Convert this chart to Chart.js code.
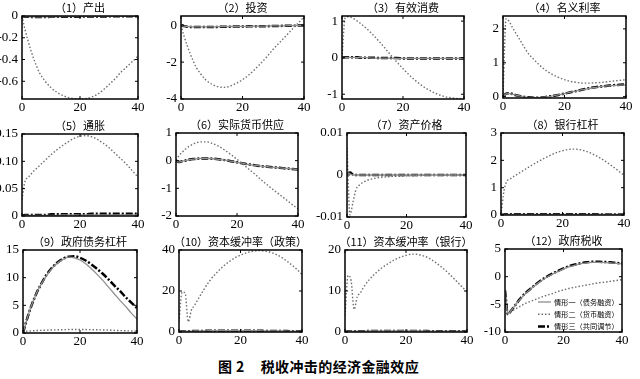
<!DOCTYPE html>
<html>
<head>
<meta charset="utf-8">
<title>税收冲击的经济金融效应</title>
<script src="https://cdn.jsdelivr.net/npm/chart.js"></script>
<style>
  body { margin: 0; background: #fff; }
  #wrap { position: relative; width: 640px; height: 379px; overflow: hidden; }
  #wrap canvas { position: absolute; }
  #caption { position: absolute; top: 356px; left: 218px; white-space: nowrap;
             font: bold 14px "Noto Sans CJK SC"; color: #000; letter-spacing: 0.4px; }
  #caption span { margin-left: 16px; }
</style>
</head>
<body>
<div id="wrap"><div id="caption">图 2<span>税收冲击的经济金融效应</span></div></div>
<script>
// quarters after the shock, shared by every panel
const t = [0, 1, 2, 3, 4, 5, 6, 8, 10, 12, 14, 16, 18, 20, 22, 24, 26, 28, 30, 32, 34, 36, 38, 40];
const xTicks = [0, 20, 40];
const scenarios = ['情形一（债务融资）', '情形二（货币融资）', '情形三（共同调节）'];
const titles = ['（1）产出', '（2）投资', '（3）有效消费', '（4）名义利率',
                '（5）通胀', '（6）实际货币供应', '（7）资产价格', '（8）银行杠杆',
                '（9）政府债务杠杆', '（10）资本缓冲率（政策）', '（11）资本缓冲率（银行）', '（12）政府税收'];

// (1) 产出
const outputDebt  = [0, -0.004, -0.006, -0.007, -0.008, -0.008, -0.008, -0.008, -0.007, -0.007, -0.006, -0.006, -0.005, -0.005, -0.004, -0.004, -0.003, -0.003, -0.003, -0.002, -0.002, -0.002, -0.002, -0.001];
const outputMoney = [0, -0.12, -0.22, -0.31, -0.39, -0.46, -0.52, -0.60, -0.66, -0.70, -0.73, -0.75, -0.76, -0.763, -0.76, -0.745, -0.72, -0.68, -0.63, -0.58, -0.52, -0.47, -0.42, -0.37];
const outputMixed = [0, -0.005, -0.007, -0.008, -0.009, -0.009, -0.009, -0.009, -0.008, -0.008, -0.007, -0.007, -0.006, -0.006, -0.005, -0.005, -0.004, -0.004, -0.003, -0.003, -0.003, -0.002, -0.002, -0.002];
// (2) 投资
const investDebt  = [0, -0.05, -0.07, -0.08, -0.09, -0.09, -0.09, -0.09, -0.09, -0.08, -0.08, -0.07, -0.07, -0.06, -0.06, -0.05, -0.05, -0.04, -0.04, -0.03, -0.03, -0.02, -0.02, -0.02];
const investMoney = [0, -0.6, -1.1, -1.55, -1.95, -2.3, -2.55, -2.95, -3.2, -3.33, -3.37, -3.3, -3.15, -2.95, -2.7, -2.4, -2.05, -1.7, -1.3, -0.95, -0.6, -0.25, 0.1, 0.45];
const investMixed = [0, -0.05, -0.08, -0.09, -0.1, -0.1, -0.1, -0.1, -0.09, -0.09, -0.08, -0.08, -0.07, -0.07, -0.06, -0.06, -0.05, -0.05, -0.04, -0.04, -0.03, -0.03, -0.02, -0.02];
// (3) 有效消费
const consDebt  = [0, 0.01, 0.01, 0.01, 0.01, 0, 0, 0, -0.01, -0.01, -0.01, -0.01, -0.02, -0.02, -0.02, -0.02, -0.02, -0.02, -0.02, -0.02, -0.02, -0.02, -0.02, -0.02];
const consMoney = [0, 1.08, 1.12, 1.1, 1.06, 1.0, 0.94, 0.8, 0.64, 0.46, 0.27, 0.07, -0.12, -0.3, -0.47, -0.62, -0.75, -0.86, -0.95, -1.02, -1.07, -1.1, -1.12, -1.13];
const consMixed = [0, 0.01, 0.01, 0.01, 0.01, 0.01, 0, 0, 0, -0.01, -0.01, -0.01, -0.01, -0.02, -0.02, -0.02, -0.02, -0.02, -0.02, -0.02, -0.02, -0.02, -0.02, -0.02];
// (4) 名义利率
const rateDebt  = [0, 0.08, 0.09, 0.07, 0.05, 0.03, 0.01, -0.02, -0.03, -0.03, -0.01, 0.02, 0.05, 0.09, 0.13, 0.17, 0.21, 0.24, 0.27, 0.3, 0.32, 0.33, 0.34, 0.35];
const rateMoney = [0, 2.3, 2.22, 2.05, 1.9, 1.75, 1.6, 1.3, 1.1, 0.92, 0.77, 0.66, 0.57, 0.5, 0.45, 0.42, 0.4, 0.4, 0.41, 0.42, 0.44, 0.46, 0.48, 0.5];
const rateMixed = [0, 0.09, 0.1, 0.08, 0.05, 0.03, 0.01, -0.02, -0.03, -0.03, -0.01, 0.02, 0.05, 0.09, 0.13, 0.17, 0.21, 0.25, 0.28, 0.3, 0.32, 0.34, 0.35, 0.36];
// (5) 通胀
const inflDebt  = [0, 0.001, 0.001, 0.001, 0.001, 0.001, 0.001, 0.001, 0.001, 0.001, 0.002, 0.002, 0.002, 0.002, 0.002, 0.002, 0.002, 0.002, 0.002, 0.002, 0.002, 0.002, 0.002, 0.002];
const inflMoney = [0.03, 0.063, 0.07, 0.076, 0.082, 0.087, 0.092, 0.102, 0.112, 0.121, 0.129, 0.136, 0.142, 0.146, 0.147, 0.145, 0.14, 0.133, 0.125, 0.115, 0.105, 0.095, 0.083, 0.071];
const inflMixed = [0, 0.002, 0.002, 0.002, 0.002, 0.002, 0.002, 0.002, 0.003, 0.003, 0.003, 0.003, 0.003, 0.003, 0.003, 0.004, 0.004, 0.004, 0.004, 0.004, 0.004, 0.004, 0.004, 0.004];
// (6) 实际货币供应
const moneyDebt  = [0, -0.05, -0.02, 0, 0.03, 0.05, 0.06, 0.08, 0.08, 0.07, 0.05, 0.02, -0.02, -0.06, -0.1, -0.14, -0.17, -0.2, -0.22, -0.24, -0.26, -0.28, -0.3, -0.32];
const moneyMoney = [0.02, 0.18, 0.3, 0.41, 0.5, 0.56, 0.62, 0.68, 0.68, 0.62, 0.52, 0.38, 0.22, 0.05, -0.13, -0.32, -0.5, -0.7, -0.88, -1.06, -1.23, -1.4, -1.58, -1.74];
const moneyMixed = [0, -0.05, -0.02, 0, 0.03, 0.05, 0.06, 0.08, 0.08, 0.07, 0.05, 0.02, -0.02, -0.06, -0.1, -0.14, -0.17, -0.2, -0.22, -0.24, -0.26, -0.28, -0.3, -0.32];
// (7) 资产价格
const assetDebt  = [0.0005, 0.0003, 0, 0, 0, 0, 0, 0, 0, 0, 0, 0, 0, 0, 0, 0, 0, 0, 0, 0, 0, 0, 0, 0];
const assetMoney = [0.0065, -0.0095, -0.0065, -0.0035, -0.0025, -0.0019, -0.0015, -0.001, -0.0007, -0.0005, -0.0004, -0.0003, -0.0003, -0.0002, -0.0002, -0.0001, -0.0001, -0.0001, -0.0001, 0, 0, 0, 0, 0];
const assetMixed = [0.0004, 0.0006, 0.0001, 0, 0, 0, 0, 0, 0, 0, 0, 0, 0, 0, 0, 0, 0, 0, 0, 0, 0, 0, 0, 0];
// (8) 银行杠杆
const bankDebt  = [0, 0.01, 0.02, 0.02, 0.02, 0.02, 0.02, 0.02, 0.02, 0.02, 0.02, 0.02, 0.02, 0.02, 0.02, 0.02, 0.02, 0.02, 0.02, 0.02, 0.02, 0.02, 0.02, 0.02];
const bankMoney = [0, 0.9, 1.25, 1.32, 1.4, 1.47, 1.54, 1.68, 1.82, 1.95, 2.07, 2.18, 2.28, 2.35, 2.4, 2.41, 2.38, 2.32, 2.22, 2.1, 1.96, 1.8, 1.63, 1.45];
const bankMixed = [0, 0.02, 0.03, 0.03, 0.03, 0.03, 0.03, 0.03, 0.03, 0.03, 0.03, 0.03, 0.03, 0.03, 0.03, 0.03, 0.03, 0.03, 0.03, 0.02, 0.02, 0.02, 0.02, 0.02];
// (9) 政府债务杠杆
const govDebtDebt  = [0, 1.8, 3.5, 5.0, 6.3, 7.5, 8.5, 10.2, 11.6, 12.6, 13.3, 13.7, 13.6, 13.2, 12.5, 11.6, 10.6, 9.5, 8.3, 7.1, 5.9, 4.8, 3.6, 2.5];
const govDebtMoney = [0, 0.3, 0.35, 0.4, 0.42, 0.45, 0.47, 0.51, 0.55, 0.58, 0.6, 0.62, 0.63, 0.63, 0.62, 0.6, 0.58, 0.55, 0.52, 0.48, 0.44, 0.4, 0.36, 0.32];
const govDebtMixed = [0, 1.8, 3.5, 5.0, 6.3, 7.5, 8.5, 10.3, 11.7, 12.7, 13.4, 13.8, 13.85, 13.6, 13.1, 12.4, 11.6, 10.7, 9.7, 8.6, 7.6, 6.5, 5.5, 4.5];
// (10) 资本缓冲率（政策）
const bufPolDebt  = [0, 0.2, 0.3, 0.4, 0.4, 0.5, 0.5, 0.5, 0.6, 0.6, 0.6, 0.6, 0.6, 0.6, 0.6, 0.6, 0.6, 0.5, 0.5, 0.5, 0.5, 0.4, 0.4, 0.4];
const bufPolMoney = [5, 19.5, 19, 5, 10.5, 13, 15.5, 20.5, 25, 28.5, 31.5, 34, 36, 37.5, 38.7, 39.4, 39.7, 39.5, 38.8, 37.5, 35.8, 33.5, 31, 28];
const bufPolMixed = [0, 0.2, 0.3, 0.4, 0.4, 0.5, 0.5, 0.5, 0.6, 0.6, 0.6, 0.6, 0.6, 0.6, 0.6, 0.6, 0.6, 0.5, 0.5, 0.5, 0.5, 0.4, 0.4, 0.4];
// (11) 资本缓冲率（银行）
const bufBankDebt  = [0, 0.1, 0.15, 0.2, 0.2, 0.2, 0.2, 0.25, 0.25, 0.25, 0.25, 0.25, 0.25, 0.25, 0.25, 0.25, 0.25, 0.2, 0.2, 0.2, 0.2, 0.2, 0.2, 0.2];
const bufBankMoney = [4, 13.8, 12.5, 5.5, 8.6, 9.5, 10.8, 12.8, 14.3, 15.6, 16.6, 17.5, 18.2, 18.7, 19, 18.9, 18.5, 17.8, 16.8, 15.6, 14.3, 12.8, 11.3, 9.8];
const bufBankMixed = [0, 0.1, 0.15, 0.2, 0.2, 0.2, 0.2, 0.25, 0.25, 0.25, 0.25, 0.25, 0.25, 0.25, 0.25, 0.25, 0.25, 0.2, 0.2, 0.2, 0.2, 0.2, 0.2, 0.2];
// (12) 政府税收
const taxDebt  = [-2.5, -6.8, -6.2, -5.5, -4.8, -4.2, -3.6, -2.6, -1.7, -0.9, -0.2, 0.4, 0.9, 1.4, 1.8, 2.1, 2.35, 2.5, 2.6, 2.6, 2.55, 2.5, 2.4, 2.3];
const taxMoney = [-2.5, -6.5, -6.3, -6.0, -5.7, -5.4, -5.1, -4.6, -4.2, -3.8, -3.4, -3.1, -2.7, -2.4, -2.1, -1.9, -1.7, -1.5, -1.3, -1.1, -1.0, -0.85, -0.7, -0.55];
const taxMixed = [-2.5, -6.8, -6.2, -5.5, -4.8, -4.1, -3.5, -2.5, -1.6, -0.8, -0.1, 0.5, 1.0, 1.5, 1.9, 2.2, 2.45, 2.6, 2.7, 2.7, 2.65, 2.6, 2.5, 2.4];

// y axes
const yMin = [-0.763, -4, -1.13, -0.04, 0, -2, -0.01, 0, 0, 0, 0, -10];
const yMax = [0, 0.5, 1.14, 2.38, 0.15, 1, 0.01, 3, 15, 40, 20, 5];
const yTicks = [[-0.6, -0.4, -0.2, 0], [-4, -2, 0], [-1, 0, 1], [0, 1, 2],
                [0, 0.05, 0.1, 0.15], [-2, -1, 0, 1], [-0.01, 0, 0.01], [0, 1, 2, 3],
                [0, 5, 10, 15], [0, 20, 40], [0, 10, 20], [-10, -5, 0, 5]];
const yTickLabels = [['-0.6', '-0.4', '-0.2', '0'], ['-4', '-2', '0'], ['-1', '0', '1'], ['0', '1', '2'],
                     ['0', '0.05', '0.10', '0.15'], ['-2', '-1', '0', '1'], ['-0.01', '0', '0.01'], ['0', '1', '2', '3'],
                     ['0', '5', '10', '15'], ['0', '20', '40'], ['0', '10', '20'], ['-10', '-5', '0', '5']];

const panels = [
  [outputDebt, outputMoney, outputMixed], [investDebt, investMoney, investMixed],
  [consDebt, consMoney, consMixed], [rateDebt, rateMoney, rateMixed],
  [inflDebt, inflMoney, inflMixed], [moneyDebt, moneyMoney, moneyMixed],
  [assetDebt, assetMoney, assetMixed], [bankDebt, bankMoney, bankMixed],
  [govDebtDebt, govDebtMoney, govDebtMixed], [bufPolDebt, bufPolMoney, bufPolMixed],
  [bufBankDebt, bufBankMoney, bufBankMixed], [taxDebt, taxMoney, taxMixed]
];

// plot boxes on the page: left, top, right, bottom
const boxes = [
  [22, 16, 138, 99], [181, 16, 304, 99], [342, 16, 464, 99], [503, 16, 626, 98],
  [22, 134, 138, 216], [176, 133, 298, 216], [347, 133, 466, 217], [501, 133, 624, 215],
  [23, 250, 137, 333], [179, 250, 302, 332], [345, 250, 467, 332], [505, 249, 622, 332]
];

const tickFont = { family: '"Liberation Serif"', size: 13 };
const styles = [
  { borderColor: '#8f8f8f', borderWidth: 1.3 },
  { borderColor: '#6f6f6f', borderWidth: 1.4, borderDash: [1.5, 2] },
  { borderColor: '#000', borderWidth: 2.5, borderDash: [7, 2, 2, 2] }
];

// box with inward ticks on all four sides, panel title, optional legend
const frame = {
  id: 'frame',
  afterDatasetsDraw(chart, args, opts) {
    const { ctx, chartArea: a, scales } = chart;
    ctx.save();
    ctx.strokeStyle = '#000';
    ctx.lineWidth = 1.5;
    ctx.strokeRect(a.left, a.top, a.right - a.left, a.bottom - a.top);
    ctx.lineWidth = 1;
    ctx.beginPath();
    scales.x.ticks.forEach(tk => {
      const px = scales.x.getPixelForValue(tk.value);
      ctx.moveTo(px, a.bottom); ctx.lineTo(px, a.bottom - 3);
      ctx.moveTo(px, a.top); ctx.lineTo(px, a.top + 3);
    });
    scales.y.ticks.forEach(tk => {
      const py = scales.y.getPixelForValue(tk.value);
      ctx.moveTo(a.left, py); ctx.lineTo(a.left + 3, py);
      ctx.moveTo(a.right, py); ctx.lineTo(a.right - 3, py);
    });
    ctx.stroke();

    ctx.fillStyle = '#000';
    ctx.font = '11px "Noto Sans CJK SC"';
    ctx.textAlign = 'center';
    ctx.textBaseline = 'middle';
    ctx.fillText(opts.title, (a.left + a.right) / 2, a.top - 8);

    if (opts.legend) {
      ctx.font = '7.2px "Noto Sans CJK SC"';
      ctx.textAlign = 'left';
      chart.data.datasets.forEach((ds, k) => {
        const y = a.bottom - 30 + k * 12.3;
        ctx.save();
        ctx.strokeStyle = ds.borderColor;
        ctx.lineWidth = ds.borderWidth;
        ctx.setLineDash(ds.borderDash || []);
        ctx.beginPath();
        ctx.moveTo(a.right - 84, y);
        ctx.lineTo(a.right - 71, y);
        ctx.stroke();
        ctx.restore();
        ctx.fillText(ds.label, a.right - 68, y);
      });
    }
    ctx.restore();
  }
};

const wrap = document.getElementById('wrap');
const padL = 44, padT = 18, padR = 10, padB = 20;

panels.forEach((series, i) => {
  const [L, T, R, B] = boxes[i];
  const canvas = document.createElement('canvas');
  canvas.width = R - L + padL + padR;
  canvas.height = B - T + padT + padB;
  canvas.style.left = (L - padL) + 'px';
  canvas.style.top = (T - padT) + 'px';
  wrap.appendChild(canvas);

  new Chart(canvas, {
    type: 'line',
    data: {
      datasets: series.map((vals, k) => Object.assign({
        label: scenarios[k],
        data: vals.map((v, j) => ({ x: t[j], y: v })),
        fill: false
      }, styles[k]))
    },
    options: {
      responsive: false,
      animation: false,
      layout: { padding: { top: padT, right: padR, left: 0, bottom: 0 } },
      elements: { point: { radius: 0 }, line: { cubicInterpolationMode: 'monotone' } },
      plugins: {
        legend: { display: false },
        tooltip: { enabled: false },
        frame: { title: titles[i], legend: i === 11 }
      },
      scales: {
        x: {
          type: 'linear', min: 0, max: 40,
          afterBuildTicks: s => { s.ticks = xTicks.map(v => ({ value: v })); },
          afterFit: s => { s.height = padB; },
          grid: { display: false, drawTicks: false },
          border: { display: false },
          ticks: { font: tickFont, color: '#000', padding: 1, maxRotation: 0, autoSkip: false }
        },
        y: {
          type: 'linear', min: yMin[i], max: yMax[i],
          afterBuildTicks: s => { s.ticks = yTicks[i].map(v => ({ value: v })); },
          afterFit: s => { s.width = padL; },
          grid: { display: false, drawTicks: false },
          border: { display: false },
          ticks: { font: tickFont, color: '#000', padding: 4, autoSkip: false,
                   callback: (v, k) => yTickLabels[i][k] }
        }
      }
    },
    plugins: [frame]
  });
});
</script>
</body>
</html>
